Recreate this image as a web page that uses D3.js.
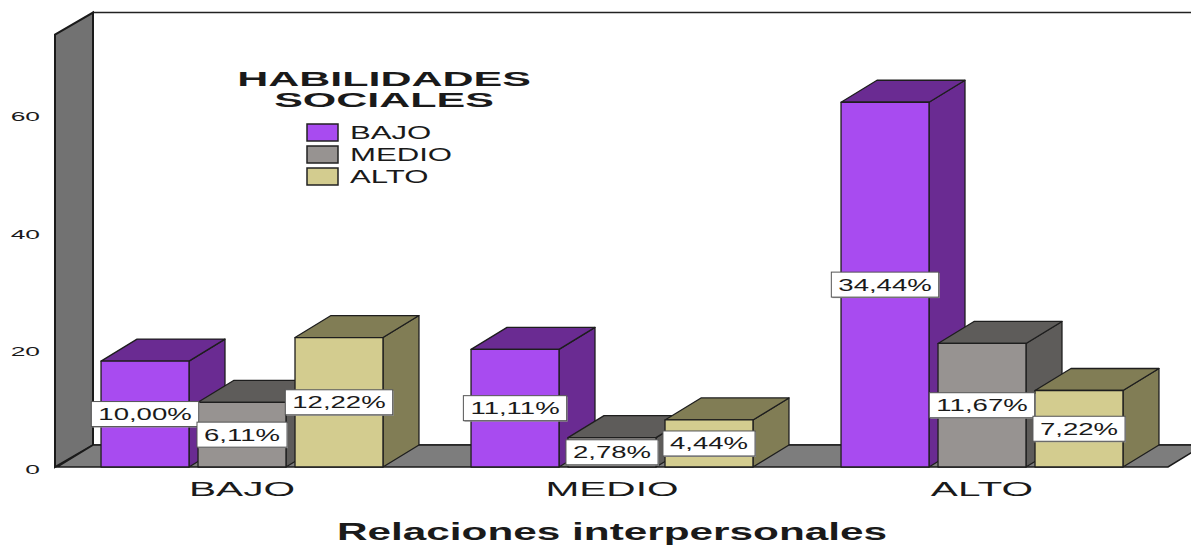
<!DOCTYPE html>
<html>
<head>
<meta charset="utf-8">
<script src="https://cdn.jsdelivr.net/npm/d3@7"></script>
<style>
  body { margin: 0; background: #fff; }
  svg { display: block; font-family: "Liberation Sans", Arial, sans-serif; }
</style>
</head>
<body>
<script>
// data
var categories = ["BAJO", "MEDIO", "ALTO"];          // Relaciones interpersonales
var seriesNames = ["BAJO", "MEDIO", "ALTO"];         // Habilidades sociales
var bajoCounts = [18, 20, 62];
var medioCounts = [11, 5, 21];
var altoCounts = [22, 8, 13];
var yTicks = [0, 20, 40, 60];
var axisTop = 73.5;   // top of the back wall in data units

var counts = [bajoCounts, medioCounts, altoCounts];
var total = d3.sum(counts, function(a) { return d3.sum(a); });

var width = 1191, height = 546;
var depthX = 36, depthY = -22;

var faceColors = ["#a84bf0", "#979391", "#d3cc8f"];
var sideColors = ["#6a2b92", "#5e5c5a", "#817d55"];

var svg = d3.select("body").append("svg")
    .attr("width", width)
    .attr("height", height);

var yScale = d3.scaleLinear()
    .domain([0, 60])
    .range([467, 114]);

var x0 = d3.scaleBand()
    .domain(categories)
    .range([57, 1167])
    .padding(0);

var x1 = d3.scaleBand()
    .domain(seriesNames)
    .range([0, x0.bandwidth()])
    .paddingInner(0.093)
    .paddingOuter(0.454);

function pts(a) { return a.map(function(p) { return p.join(","); }).join(" "); }

// helper : horizontally stretched text like the original picture
function stretched(g, str, x, y, size, sx, anchor, weight) {
  return g.append("text")
      .attr("transform", "translate(" + x + "," + y + ") scale(" + sx + ",1)")
      .attr("text-anchor", anchor)
      .attr("font-size", size)
      .attr("font-weight", weight || "normal")
      .attr("fill", "#1a1a1a")
      .text(str);
}

var y0 = yScale(0), yT = yScale(axisTop);
var xL = x0.range()[0], xR = x0.range()[1];

// back wall
svg.append("polygon")
    .attr("points", pts([[xL + depthX, yT + depthY], [xR + depthX + 40, yT + depthY],
                         [xR + depthX + 40, y0 + depthY], [xL + depthX, y0 + depthY]]))
    .attr("fill", "#fff").attr("stroke", "#222").attr("stroke-width", 1.5);

// side wall
svg.append("polygon")
    .attr("points", pts([[xL - 2, y0], [xL - 2, yT], [xL + depthX, yT + depthY], [xL + depthX, y0 + depthY]]))
    .attr("fill", "#727272").attr("stroke", "#1a1a1a").attr("stroke-width", 2);

// floor
svg.append("polygon")
    .attr("points", pts([[xL, y0], [xR + 1, y0], [xR + 1 + depthX, y0 + depthY], [xL + depthX, y0 + depthY]]))
    .attr("fill", "#7d7d7d").attr("stroke", "#1a1a1a").attr("stroke-width", 1.5);

// y tick labels
svg.append("g").selectAll("text")
    .data(yTicks)
    .enter()
    .each(function(d) {
      stretched(d3.select(this), d, 40, yScale(d) + 7, 12, 2.2, "end");
    });

// bars
var bars = svg.append("g");
categories.forEach(function(cat, ci) {
  seriesNames.forEach(function(s, si) {
    var v = counts[si][ci];
    var x = x0(cat) + x1(s), w = x1.bandwidth();
    var top = yScale(v);
    var g = bars.append("g").attr("stroke", "#1e1e1e").attr("stroke-width", 1.3).attr("stroke-linejoin", "round");
    g.append("polygon")
        .attr("points", pts([[x + w, top], [x + w + depthX, top + depthY], [x + w + depthX, y0 + depthY], [x + w, y0]]))
        .attr("fill", sideColors[si]);
    g.append("polygon")
        .attr("points", pts([[x, top], [x + w, top], [x + w + depthX, top + depthY], [x + depthX, top + depthY]]))
        .attr("fill", sideColors[si]);
    g.append("rect")
        .attr("x", x).attr("y", top)
        .attr("width", w).attr("height", y0 - top)
        .attr("fill", faceColors[si]);
  });
});

// value labels
var labels = svg.append("g");
categories.forEach(function(cat, ci) {
  seriesNames.forEach(function(s, si) {
    var v = counts[si][ci];
    var cx = x0(cat) + x1(s) + x1.bandwidth() / 2;
    var cy = (yScale(v) + y0) / 2;
    var pct = d3.format(".2f")(v / total * 100).replace(".", ",") + "%";
    var g = labels.append("g");
    var sx = 1.62;
    var t = stretched(g, pct, cx, cy + 6, 17, sx, "middle");
    var bw = t.node().getComputedTextLength() * sx + 14;
    g.insert("rect", "text")
        .attr("x", cx - bw / 2 + 1).attr("y", cy - 11.5)
        .attr("width", bw).attr("height", 25)
        .attr("fill", "#999");
    g.insert("rect", "text")
        .attr("x", cx - bw / 2).attr("y", cy - 12.5)
        .attr("width", bw).attr("height", 25)
        .attr("fill", "#fff").attr("stroke", "#555").attr("stroke-width", 1);
  });
});

// category labels
categories.forEach(function(cat) {
  stretched(svg, cat, x0(cat) + x0.bandwidth() / 2, 496, 20, 2.03, "middle");
});

// axis title
stretched(svg, "Relaciones interpersonales", (xL + xR) / 2, 540, 23, 1.84, "middle", "bold");

// legend
var legend = svg.append("g");
stretched(legend, "HABILIDADES", 384, 86, 20, 2.15, "middle", "bold");
stretched(legend, "SOCIALES", 384, 106.5, 20, 2.15, "middle", "bold");
seriesNames.forEach(function(s, i) {
  var ry = 124 + i * 22;
  legend.append("rect")
      .attr("x", 307).attr("y", ry)
      .attr("width", 31).attr("height", 17)
      .attr("fill", faceColors[i])
      .attr("stroke", "#222").attr("stroke-width", 1.5);
  stretched(legend, s, 350, ry + 15, 17.5, 1.78, "start");
});
</script>
</body>
</html>
